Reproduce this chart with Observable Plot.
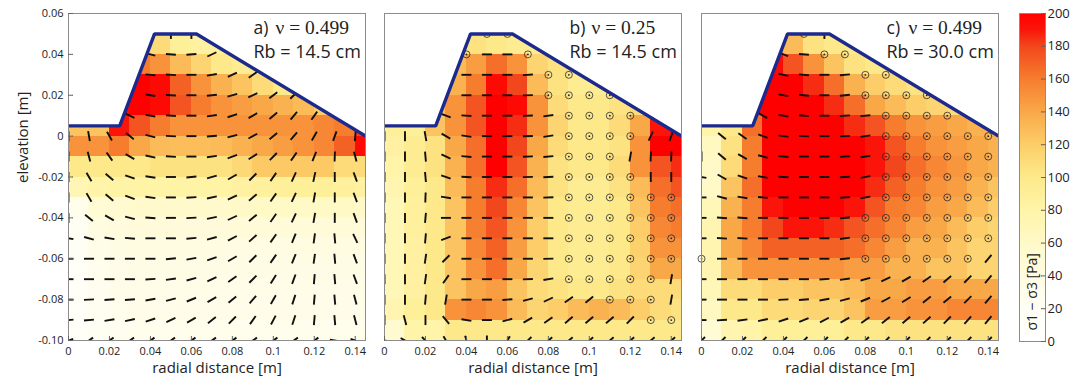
<!DOCTYPE html>
<html><head><meta charset="utf-8">
<script src="https://cdn.jsdelivr.net/npm/d3@7"></script>
<script src="https://cdn.jsdelivr.net/npm/@observablehq/plot@0.6"></script>
<style>
body{margin:0;background:#fff;}
#chart{position:relative;width:1083px;height:385px;overflow:hidden;}
#chart > svg{position:absolute;top:0;}
</style></head><body><div id="chart"></div>
<script>
// ---------- grid & axes ----------
const nodeX = [0,0.01,0.02,0.03,0.04,0.05,0.06,0.07,0.08,0.09,0.10,0.11,0.12,0.13,0.14];
const nodeY = [0.05,0.04,0.03,0.02,0.01,0,-0.01,-0.02,-0.03,-0.04,-0.05,-0.06,-0.07,-0.08,-0.09,-0.10];
const cellY = [0.04,0.03,0.02,0.01,0,-0.01,-0.02,-0.03,-0.04,-0.05,-0.06,-0.07,-0.08,-0.09,-0.10];
const xTicks = [0,0.02,0.04,0.06,0.08,0.10,0.12,0.14];
const xTickLabels = ["0","0.02","0.04","0.06","0.08","0.1","0.12","0.14"];
const yTicks = [0.06,0.04,0.02,0,-0.02,-0.04,-0.06,-0.08,-0.10];
const yTickLabels = ["0.06","0.04","0.02","0","-0.02","-0.04","-0.06","-0.08","-0.10"];
const colorTicks = [0,20,40,60,80,100,120,140,160,180,200];
const surfaceX = [0,0.025,0.042,0.0625,0.145];
const surfaceY = [0.005,0.005,0.05,0.05,0.0];
const cmapStops = [0,20,40,60,80,100,120,140,160,180,190,200];
const cmapColors = ["#ffffff","#fffef4","#fffce2","#fff9c8","#fff4a8","#fde98a","#fccd68","#f9a848","#f67c2e","#f2461c","#fa140a","#ff0000"];
const panelLetters = ["a)","b)","c)"];
const panelNu = ["ν = 0.499","ν = 0.25","ν = 0.499"];
const panelRb = ["Rb = 14.5 cm","Rb = 14.5 cm","Rb = 30.0 cm"];
const xLabel = "radial distance [m]";
const yLabel = "elevation [m]";
const cbLabel = "σ1 − σ3 [Pa]";
const n = null;

// ---------- cell values (σ1−σ3, Pa); rows top (0.04) to bottom (-0.10), cols x = 0 … 0.14 ----------
const cellsA = [
 [0,0,0,110,110,90,85,88,0,0,0,0,0,0,0],
 [0,0,0,160,150,130,115,100,95,95,0,0,0,0,0],
 [0,0,0,200,195,170,150,135,125,110,100,95,0,0,0],
 [0,0,195,200,195,175,160,150,145,140,135,130,120,0,0],
 [125,125,190,175,160,150,150,150,150,150,150,150,155,160,180],
 [150,150,160,140,130,128,128,130,135,140,145,150,155,170,195],
 [100,100,100,100,105,105,105,105,112,122,122,122,122,110,110],
 [72,80,82,82,82,82,82,82,85,88,90,90,90,88,85],
 [30,50,55,58,58,58,58,58,60,62,62,62,62,62,60],
 [22,40,45,46,46,46,46,46,48,48,48,48,48,48,48],
 [18,34,38,40,40,40,40,40,40,40,40,40,40,40,40],
 [15,30,34,36,36,36,36,36,36,36,36,36,36,36,36],
 [14,26,32,34,34,34,34,34,34,34,34,34,34,34,34],
 [14,24,30,32,32,32,32,32,32,32,32,32,32,32,32],
 [14,22,28,30,30,30,30,30,30,30,30,30,30,30,30]
];
const cellsB = [
 [0,0,0,105,105,100,95,95,0,0,0,0,0,0,0],
 [0,0,0,130,145,165,150,115,105,100,0,0,0,0,0],
 [0,0,0,135,160,195,180,130,105,95,95,95,0,0,0],
 [0,0,130,150,175,200,195,150,110,100,100,105,110,0,0],
 [90,90,125,150,175,200,185,150,115,100,100,110,140,190,200],
 [85,95,105,140,165,200,180,140,110,100,100,105,150,200,200],
 [80,95,105,135,165,200,175,135,105,100,100,110,150,175,185],
 [75,90,100,130,160,185,165,130,105,95,95,105,130,165,175],
 [70,88,100,125,160,180,155,125,100,95,95,100,125,160,165],
 [70,88,100,125,158,175,150,120,100,95,95,100,120,155,160],
 [70,85,100,125,155,170,145,120,100,95,95,100,118,150,150],
 [70,85,100,125,150,165,140,115,100,95,95,100,115,140,140],
 [70,85,100,125,140,145,125,110,105,100,100,105,110,110,110],
 [75,90,100,150,155,150,130,115,120,130,135,130,120,110,105],
 [55,80,80,100,100,100,100,100,100,100,100,100,100,100,100]
];
const cellsC = [
 [0,0,0,150,130,105,100,100,0,0,0,0,0,0,0],
 [0,0,0,195,175,150,125,105,100,100,0,0,0,0,0],
 [0,0,0,200,200,185,165,135,120,110,105,100,0,0,0],
 [0,0,195,200,200,200,185,165,140,130,120,115,110,0,0],
 [80,100,165,200,200,200,200,185,175,160,150,145,140,135,130],
 [65,105,160,200,200,200,200,200,190,175,160,150,145,140,135],
 [60,110,160,200,200,200,200,200,190,180,165,155,148,140,135],
 [60,125,165,200,200,200,200,200,185,170,160,150,145,135,125],
 [70,135,160,190,200,200,200,190,175,160,155,145,140,130,120],
 [75,140,160,180,190,190,185,175,165,155,145,140,130,120,115],
 [75,140,155,170,170,170,170,165,155,145,135,135,125,115,115],
 [75,130,150,150,150,150,150,145,145,135,135,125,125,115,115],
 [70,110,110,120,120,125,125,130,140,140,145,145,140,140,140],
 [65,100,100,110,110,115,115,125,145,145,150,150,155,155,155],
 [50,75,80,90,90,90,90,100,100,105,105,105,105,105,105]
];

// ---------- principal stress orientation (deg from horizontal); "o" = out of plane; rows y = 0.05 … -0.10 ----------
const anglesA = [
 [n,n,n,n,n,90,90,n,n,n,n,n,n,n,n],
 [n,n,n,n,-15,-5,5,25,n,n,n,n,n,n,n],
 [n,n,n,n,-5,-3,0,10,25,35,n,n,n,n,n],
 [n,n,n,n,-8,-3,0,5,15,25,38,45,n,n,n],
 [n,n,n,-25,-10,-3,0,8,18,30,40,50,55,n,n],
 [90,-80,-60,-40,-15,-3,0,5,15,28,40,50,60,70,85],
 [90,-75,-55,-30,-12,-3,0,8,20,32,45,55,68,88,-75],
 [90,-60,-40,-20,-8,0,5,15,30,45,55,65,78,90,-70],
 [90,-60,-40,-20,-8,0,3,12,25,40,55,65,80,90,-70],
 [90,-40,-30,-15,-5,0,3,12,25,40,55,65,80,90,-70],
 [-10,-15,-10,-5,0,0,5,15,28,42,55,68,82,-85,-65],
 [0,0,0,0,0,5,10,20,30,45,55,68,82,-85,-70],
 [0,0,0,0,3,8,15,25,35,45,58,70,85,-85,-70],
 [0,3,5,5,10,15,22,30,40,50,60,72,85,-85,-75],
 [5,5,10,12,18,25,30,38,45,55,62,72,85,-85,-75],
 [20,35,35,35,35,35,35,35,35,35,35,35,35,-10,-20]
];
const anglesB = [
 [n,n,n,n,n,"o","o",n,n,n,n,n,n,n,n],
 [n,n,n,n,"o",0,0,"o",n,n,n,n,n,n,n],
 [n,n,n,n,0,0,0,3,"o","o",n,n,n,n,n],
 [n,n,n,n,0,0,0,2,"o","o","o","o",n,n,n],
 [n,n,n,-20,-3,0,0,2,8,"o","o","o","o",n,n],
 [90,90,-80,-30,-8,0,0,2,8,"o","o","o","o",65,70],
 [90,90,-85,-25,-5,0,0,2,5,"o","o","o",80,88,88],
 [90,90,-85,-20,-3,0,0,2,3,"o","o","o","o",90,90],
 [90,90,88,-10,0,0,0,0,2,"o","o","o","o","o","o"],
 [90,90,85,0,0,0,0,0,0,"o","o","o","o","o","o"],
 [90,90,85,20,0,0,0,0,0,"o","o","o","o","o","o"],
 [90,90,82,45,0,0,0,0,2,"o","o","o","o","o","o"],
 [90,90,82,55,0,0,0,2,10,"o","o","o","o","o",80],
 [90,90,85,80,0,0,5,15,25,35,40,"o","o","o",80],
 [90,-75,90,-50,-10,0,15,30,35,40,40,40,45,"o","o"],
 [-10,-30,-45,-60,-75,90,60,45,40,40,40,40,40,40,40]
];
const anglesC = [
 [n,n,n,n,n,"o",90,n,n,n,n,n,n,n,n],
 [n,n,n,n,-20,-5,"o","o",n,n,n,n,n,n,n],
 [n,n,n,n,-12,-5,0,5,"o","o",n,n,n,n,n],
 [n,n,n,n,-10,-5,0,5,"o","o","o","o",n,n,n],
 [n,n,n,-30,-10,-5,0,3,5,"o","o","o","o",n,n],
 [n,-40,-35,-20,-8,-3,0,3,8,"o","o","o","o","o","o"],
 [90,-40,-30,-15,-5,0,0,3,8,"o","o","o","o","o","o"],
 [-10,-30,-20,-10,-3,0,0,3,10,"o","o","o","o","o","o"],
 [0,-15,-10,-5,0,0,0,3,10,"o","o","o","o","o","o"],
 [0,-5,-5,0,0,0,0,5,"o","o","o","o","o","o","o"],
 [0,-3,-3,0,0,0,0,8,"o","o","o","o","o","o","o"],
 ["o",0,0,0,0,0,0,5,"o","o","o","o","o","o",50],
 [0,0,0,0,0,0,3,8,15,25,30,35,40,45,50],
 [0,0,0,0,3,5,10,15,22,28,32,38,40,45,50],
 [0,3,8,12,18,22,28,30,35,38,40,42,45,48,50],
 [45,45,45,45,45,45,45,45,45,45,45,45,45,45,45]
];

// ---------- drawing ----------
const FONT = "'Open Sans', 'DejaVu Sans', sans-serif";
const xDomain = [0, 0.145], yDomain = [-0.10, 0.06];
const FRAME_W = 297, H = 385, MT = 13, MB = 45;
const colorOpts = {type: "linear", domain: cmapStops, range: cmapColors, clamp: true};
const surface = surfaceX.map((x, i) => ({x, y: surfaceY[i]}));
const step = nodeX[1] - nodeX[0];

function buildPanel(k, cells, angles, showY) {
  const cellData = cells.flatMap((row, j) => row.map((v, i) => ({x1: nodeX[i], x2: nodeX[i] + step, y1: cellY[j], y2: cellY[j] + step, v})));
  const dashes = [], rings = [];
  angles.forEach((row, j) => row.forEach((a, i) => {
    if (a === null) return;
    if (a === "o") rings.push({x: nodeX[i], y: nodeY[j]});
    else dashes.push({x: nodeX[i], y: nodeY[j], a});
  }));
  const mL = showY ? 68 : 16, mR = 6;
  const marks = [
    Plot.rect(cellData, {x1: "x1", x2: "x2", y1: "y1", y2: "y2", fill: "v", clip: true, shapeRendering: "crispEdges"}),
    Plot.vector(dashes, {x: "x", y: "y", rotate: d => 90 - d.a, length: 10, anchor: "middle", r: 0, stroke: "#111", strokeWidth: 1.9, strokeLinecap: "butt", clip: true}),
    Plot.dot(rings, {x: "x", y: "y", r: 3.5, stroke: "#2a2a2a", strokeWidth: 0.8, fill: "none"}),
    Plot.dot(rings, {x: "x", y: "y", r: 0.9, fill: "#222", stroke: null}),
    Plot.areaY(surface, {x: "x", y1: "y", y2: () => yDomain[1], fill: "white"}),
    Plot.line(surface, {x: "x", y: "y", stroke: "#1c2a8e", strokeWidth: 3.4, strokeLinejoin: "miter", strokeLinecap: "butt", clip: true}),
    Plot.frame({stroke: "#8c8c8c"}),
    Plot.vector(xTicks, {x: d => d, frameAnchor: "bottom", length: 4, anchor: "start", r: 0, stroke: "#666", strokeWidth: 1}),
    Plot.axisX(xTicks, {tickSize: 0, tickPadding: 7, tickFormat: d => xTickLabels[xTicks.indexOf(d)], fontSize: 11, fill: "#222", label: null}),
    Plot.text([xLabel], {frameAnchor: "bottom", dy: 28, lineAnchor: "middle", fontSize: 15, fill: "#222"}),
    Plot.text([panelLetters[k]], {frameAnchor: "top-left", dx: 185, dy: 14.5, lineAnchor: "middle", textAnchor: "start", fontSize: 17.5, fill: "#222"}),
    Plot.text([panelNu[k]], {frameAnchor: "top-left", dx: 207, dy: 14.5, lineAnchor: "middle", textAnchor: "start", fontSize: 19.5, fontFamily: "'Liberation Serif', 'DejaVu Serif', serif", fill: "#222"}),
    Plot.text([panelRb[k]], {frameAnchor: "top-left", dx: 185, dy: 38.5, lineAnchor: "middle", textAnchor: "start", fontSize: 18, fill: "#222"})
  ];
  if (showY) {
    marks.push(
      Plot.vector(yTicks, {y: d => d, frameAnchor: "left", rotate: 90, length: 4, anchor: "start", r: 0, stroke: "#666", strokeWidth: 1}),
      Plot.axisY(yTicks, {tickSize: 0, tickPadding: 5, tickFormat: d => yTickLabels[yTicks.indexOf(d)], fontSize: 11, fill: "#222", label: null}),
      Plot.text([yLabel], {frameAnchor: "left", dx: -45, dy: 6, rotate: -90, lineAnchor: "middle", fontSize: 15, fill: "#222"})
    );
  }
  return Plot.plot({
    width: mL + FRAME_W + mR, height: H,
    marginLeft: mL, marginRight: mR, marginTop: MT, marginBottom: MB,
    style: {background: "transparent", overflow: "visible", fontFamily: FONT},
    x: {domain: xDomain},
    y: showY ? {domain: yDomain} : {domain: yDomain, axis: null},
    color: colorOpts,
    marks
  });
}

const chart = document.getElementById("chart");
const frameLefts = [68, 384, 701];
[[cellsA, anglesA], [cellsB, anglesB], [cellsC, anglesC]].forEach(([c, a], k) => {
  const svg = buildPanel(k, c, a, k === 0);
  svg.style.left = (frameLefts[k] - (k === 0 ? 68 : 16)) + "px";
  chart.appendChild(svg);
});

// colorbar
const levels = d3.range(0, 200, 0.5);
const cb = Plot.plot({
  width: 83, height: H, marginLeft: 19, marginRight: 38, marginTop: 13, marginBottom: 44,
  style: {background: "transparent", overflow: "visible", fontFamily: FONT},
  y: {domain: [0, 200], axis: null},
  color: colorOpts,
  marks: [
    Plot.barY(levels, {y1: d => d, y2: d => d + 0.5, fill: d => d + 0.25, shapeRendering: "crispEdges"}),
    Plot.frame({stroke: "#8c8c8c"}),
    Plot.vector(colorTicks, {y: d => d, frameAnchor: "right", rotate: -90, length: 4, anchor: "start", r: 0, stroke: "#666", strokeWidth: 1}),
    Plot.axisY(colorTicks, {anchor: "right", tickSize: 0, tickPadding: 2, fontSize: 13, fill: "#222", label: null}),
    Plot.text([cbLabel], {frameAnchor: "bottom", dy: -11, rotate: -90, textAnchor: "start", lineAnchor: "middle", fontSize: 14, fill: "#222"})
  ]
});
cb.style.left = "1000px";
chart.appendChild(cb);
</script></body></html>
